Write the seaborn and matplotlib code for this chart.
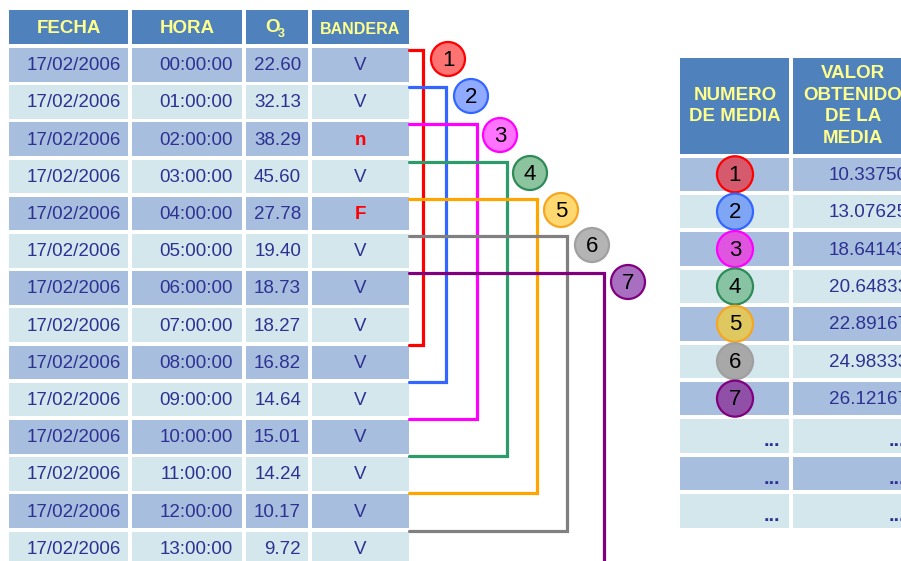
import seaborn as sns
import matplotlib.pyplot as plt
from matplotlib.patches import Rectangle, Circle

sns.set_theme(style="white")
plt.rcParams['font.family'] = ['Liberation Sans', 'DejaVu Sans']

# left table data
fechas = ['17/02/2006'] * 14
horas = ['%02d:00:00' % h for h in range(14)]
o3 = [22.60, 32.13, 38.29, 45.60, 27.78, 19.40, 18.73, 18.27,
      16.82, 14.64, 15.01, 14.24, 10.17, 9.72]
banderas = ['V', 'V', 'n', 'V', 'F', 'V', 'V', 'V', 'V', 'V', 'V', 'V', 'V', 'V']

# right table data
num_media = ['1', '2', '3', '4', '5', '6', '7']
medias = [10.33750, 13.07625, 18.64143, 20.64833, 22.89167, 24.98333, 26.12167]
extra_rows = 3
window = 8

# colours
header_col = '#4F81BD'
head_txt = '#FFFF8C'
dark_row = '#A7BEDE'
light_row = '#D3E7ED'
txt_col = '#2E3192'
line_cols = ['#FF0000', '#3366FF', '#FF00FF', '#2E9B6B', '#FFA500', '#808080', '#800080']
circ_fill = ['#FF7373', '#8FAAFF', '#FF73FF', '#8CC4A0', '#FFD970', '#B4B4B4', '#A86FC0']
circ_fill2 = ['#D65A6E', '#7EA6F5', '#E055E0', '#88C4A4', '#E0C860', '#A8A8A8', '#9050A8']
circ_edge = ['#FF0000', '#3366FF', '#FF00FF', '#2E8B57', '#F5A623', '#A0A0A0', '#800080']

fig = plt.figure(figsize=(9.01, 5.61), dpi=100)
ax = fig.add_axes([0, 0, 1, 1])
ax.set_xlim(0, 901)
ax.set_ylim(561, 0)
ax.axis('off')

# ---- left table ----
cols = [(9, 128), (132, 242), (246, 308), (312, 409)]
head_top, head_h = 10, 34
row0, step, row_h = 48, 37.2, 33.5

for (x0, x1) in cols:
    ax.add_patch(Rectangle((x0, head_top), x1 - x0, head_h, color=header_col, lw=0))
hy = head_top + head_h / 2 + 1
ax.text(69, hy, 'FECHA', ha='center', va='center', color=head_txt, fontsize=13.5, fontweight='bold')
ax.text(187, hy, 'HORA', ha='center', va='center', color=head_txt, fontsize=13.5, fontweight='bold')
ax.text(272, hy - 1, 'O', ha='center', va='center', color=head_txt, fontsize=13.5, fontweight='bold')
ax.text(281, hy + 6, '3', ha='center', va='center', color=head_txt, fontsize=9, fontweight='bold')
ax.text(360, hy + 1, 'BANDERA', ha='center', va='center', color=head_txt, fontsize=11.5, fontweight='bold')

for i in range(len(o3)):
    top = row0 + step * i
    c = dark_row if i % 2 == 0 else light_row
    for (x0, x1) in cols:
        ax.add_patch(Rectangle((x0, top), x1 - x0, row_h, color=c, lw=0))
    yc = top + row_h / 2 + 1
    ax.text(cols[0][1] - 7, yc, fechas[i], ha='right', va='center', color=txt_col, fontsize=13.5)
    ax.text(cols[1][1] - 9, yc, horas[i], ha='right', va='center', color=txt_col, fontsize=13.5)
    ax.text(cols[2][1] - 7, yc, '%.2f' % o3[i], ha='right', va='center', color=txt_col, fontsize=13.5)
    if banderas[i] == 'V':
        ax.text(360, yc, banderas[i], ha='center', va='center', color=txt_col, fontsize=13.5)
    else:
        ax.text(360, yc, banderas[i], ha='center', va='center', color='#FF0000',
                fontsize=13.5, fontweight='bold')

# ---- connector lines and circles ----
vx = [423, 446, 477, 507, 537, 567, 604]
cx = [448, 471, 500, 530, 561, 592, 628]
cy = [59, 96, 135, 173, 210, 245, 282]
for k in range(len(num_media)):
    y_start = row0 + step * k + 2
    y_end = row0 + step * (k + window) - 1
    ax.plot([409, vx[k], vx[k], 409], [y_start, y_start, y_end, y_end],
            color=line_cols[k], lw=2.3, solid_joinstyle='miter', zorder=3)
    ax.add_patch(Circle((cx[k], cy[k]), 17, facecolor=circ_fill[k],
                        edgecolor=circ_edge[k], lw=1.6, zorder=4))
    ax.text(cx[k], cy[k] + 1, num_media[k], ha='center', va='center',
            fontsize=16, color='black', zorder=5)

# ---- right table ----
rcols = [(680, 789), (793, 905)]
for (x0, x1) in rcols:
    ax.add_patch(Rectangle((x0, 58), x1 - x0, 96, color=header_col, lw=0))
ax.text(735, 106, 'NUMERO\nDE MEDIA', ha='center', va='center', color=head_txt,
        fontsize=13.5, fontweight='bold', linespacing=1.38)
ax.text(853, 106, 'VALOR\nOBTENIDO\nDE LA\nMEDIA', ha='center', va='center', color=head_txt,
        fontsize=13.5, fontweight='bold', linespacing=1.38)

rrow0, rstep, rrow_h = 157.5, 37.4, 33.5
for i in range(len(medias) + extra_rows):
    top = rrow0 + rstep * i
    c = dark_row if i % 2 == 0 else light_row
    for (x0, x1) in rcols:
        ax.add_patch(Rectangle((x0, top), x1 - x0, rrow_h, color=c, lw=0))
    yc = top + rrow_h / 2 + 1
    if i < len(medias):
        ax.add_patch(Circle((735, yc - 1), 18, facecolor=circ_fill2[i],
                            edgecolor=circ_edge[i], lw=1.6, zorder=4))
        ax.text(735, yc, num_media[i], ha='center', va='center', fontsize=16,
                color='black', zorder=5)
        ax.text(829, yc, '%.5f' % medias[i], ha='left', va='center', color=txt_col, fontsize=13.6)
    else:
        ax.text(780, top + 27, '...', ha='right', va='baseline', color=txt_col,
                fontsize=14, fontweight='bold')
        ax.text(889, top + 27, '...', ha='left', va='baseline', color=txt_col,
                fontsize=14, fontweight='bold')

fig.savefig('out.png', dpi=100)
